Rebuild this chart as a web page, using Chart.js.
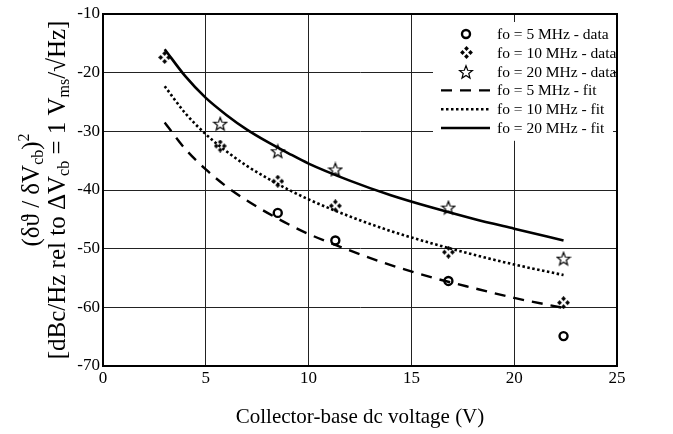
<!DOCTYPE html>
<html>
<head>
<meta charset="utf-8">
<script src="https://cdn.jsdelivr.net/npm/chart.js@4.4.1/dist/chart.umd.min.js"></script>
<style>
  html, body { margin: 0; padding: 0; background: #fff; }
  #wrap { width: 673px; height: 434px; position: relative; }
</style>
</head>
<body>
<div id="wrap"><canvas id="chart"></canvas></div>
<script>
// measured data (collector-base voltage in V, level in dB)
const v5 = [8.5, 11.3, 16.8, 22.4];
const d5 = [-43.9, -48.6, -55.5, -64.9];
const v10 = [3.0, 5.7, 8.5, 11.3, 16.8, 22.4];
const d10 = [-17.4, -32.5, -38.5, -42.7, -50.6, -59.2];
const v20 = [5.7, 8.5, 11.3, 16.8, 22.4];
const d20 = [-28.7, -33.4, -36.5, -43.0, -51.7];

// fitted curves
const fitV = [3, 4, 5, 6, 7, 8, 9, 10, 12, 14, 16, 18, 20, 22.4];
const fit5 = [-28.5, -33.0, -36.5, -39.4, -41.8, -43.9, -45.8, -47.5, -50.3, -52.8, -54.9, -56.7, -58.4, -60.1];
const fit10 = [-22.3, -26.9, -30.5, -33.4, -35.9, -38.0, -39.9, -41.6, -44.5, -47.0, -49.1, -51.0, -52.7, -54.5];
const fit20 = [-16.0, -20.6, -24.3, -27.2, -29.7, -31.8, -33.7, -35.5, -38.4, -40.9, -43.0, -44.9, -46.6, -48.6];

const legendLabels = [
  'fo = 5 MHz - data', 'fo = 10 MHz - data', 'fo = 20 MHz - data',
  'fo = 5 MHz - fit', 'fo = 10 MHz - fit', 'fo = 20 MHz - fit'
];

const SERIF = "'Liberation Serif', 'DejaVu Serif', serif";

const pts = (xs, ys) => xs.map((x, i) => ({ x: x, y: ys[i] }));

// four small diamonds in a plus arrangement
function makeCross() {
  const c = document.createElement('canvas');
  c.width = 13; c.height = 13;
  const g = c.getContext('2d');
  g.fillStyle = '#000';
  const dia = (x, y) => {
    g.beginPath();
    g.moveTo(x, y - 2.4); g.lineTo(x + 2.4, y); g.lineTo(x, y + 2.4); g.lineTo(x - 2.4, y);
    g.closePath(); g.fill();
  };
  dia(6.5, 2.5); dia(2.5, 6.5); dia(10.5, 6.5); dia(6.5, 10.5);
  return c;
}

// outlined five point star
function makeStar() {
  const c = document.createElement('canvas');
  c.width = 16; c.height = 16;
  const g = c.getContext('2d');
  g.strokeStyle = '#000';
  g.lineWidth = 1.2;
  g.beginPath();
  for (let i = 0; i < 10; i++) {
    const r = i % 2 === 0 ? 6.8 : 2.9;
    const a = -Math.PI / 2 + i * Math.PI / 5;
    const px = 8 + r * Math.cos(a), py = 8.6 + r * Math.sin(a);
    if (i === 0) g.moveTo(px, py); else g.lineTo(px, py);
  }
  g.closePath();
  g.stroke();
  return c;
}

const crossImg = makeCross();
const starImg = makeStar();

// frame around the plot area
const framePlugin = {
  id: 'frame',
  beforeDatasetsDraw(chart) {
    const a = chart.chartArea, ctx = chart.ctx;
    ctx.save();
    ctx.strokeStyle = '#000';
    ctx.lineWidth = 2;
    ctx.strokeRect(a.left, a.top, a.right - a.left, a.bottom - a.top);
    ctx.restore();
  }
};

// legend box in the upper right corner of the plot
const legendPlugin = {
  id: 'boxLegend',
  afterDraw(chart) {
    const a = chart.chartArea, ctx = chart.ctx;
    const x0 = a.right - 184, y0 = a.top + 8;
    const rowH = 18.8;
    ctx.save();
    ctx.fillStyle = '#fff';
    ctx.fillRect(x0, y0, 180, rowH * 6 + 6);
    const symX = x0 + 33, lineX1 = x0 + 8, lineX2 = x0 + 57, textX = x0 + 64;
    ctx.font = '15.5px ' + SERIF;
    ctx.textBaseline = 'middle';
    ctx.fillStyle = '#000';
    legendLabels.forEach((lab, i) => {
      const y = y0 + 12 + i * rowH;
      const ds = chart.data.datasets[i];
      if (i < 3) {
        if (ds.pointStyle === 'circle') {
          ctx.beginPath();
          ctx.lineWidth = ds.pointBorderWidth;
          ctx.strokeStyle = '#000';
          ctx.arc(symX, y, ds.pointRadius, 0, Math.PI * 2);
          ctx.stroke();
        } else {
          const img = ds.pointStyle;
          ctx.drawImage(img, Math.round(symX - img.width / 2), Math.round(y - img.height / 2));
        }
      } else {
        ctx.beginPath();
        ctx.strokeStyle = '#000';
        ctx.lineWidth = ds.borderWidth;
        ctx.setLineDash(ds.borderDash || []);
        ctx.moveTo(lineX1, y);
        ctx.lineTo(lineX2, y);
        ctx.stroke();
        ctx.setLineDash([]);
      }
      ctx.fillText(lab, textX, y + 1);
    });
    ctx.restore();
  }
};

// two-line rotated y-axis title with sub/superscripts
const yTitlePlugin = {
  id: 'yTitle',
  afterDraw(chart) {
    const a = chart.chartArea, ctx = chart.ctx;
    const cy = (a.top + a.bottom) / 2;
    const big = '25px ' + SERIF, small = '16px ' + SERIF;
    const lines = [
      { x: 31, parts: [['(δϑ / δV', 0], ['cb', 1], [')', 0], ['2', -1]] },
      { x: 57, parts: [['[dBc/Hz rel to ΔV', 0], ['cb', 1], [' = 1 V', 0], ['ms', 1], ['/√Hz]', 0]] }
    ];
    ctx.save();
    ctx.fillStyle = '#000';
    ctx.textBaseline = 'alphabetic';
    lines.forEach(line => {
      let total = 0;
      line.parts.forEach(p => {
        ctx.font = p[1] === 0 ? big : small;
        total += ctx.measureText(p[0]).width;
      });
      ctx.save();
      ctx.translate(line.x, cy);
      ctx.rotate(-Math.PI / 2);
      let x = -total / 2;
      line.parts.forEach(p => {
        ctx.font = p[1] === 0 ? big : small;
        const dy = p[1] === 1 ? 12 : (p[1] === -1 ? -2 : 8);
        ctx.fillText(p[0], x, dy);
        x += ctx.measureText(p[0]).width;
      });
      ctx.restore();
    });
    ctx.restore();
  }
};

const fitStyle = { showLine: true, pointRadius: 0, borderColor: '#000', fill: false, tension: 0.4, cubicInterpolationMode: 'monotone' };

new Chart(document.getElementById('chart'), {
  type: 'scatter',
  data: {
    datasets: [
      { label: legendLabels[0], data: pts(v5, d5), pointStyle: 'circle', pointRadius: 4, pointBorderWidth: 2.4, borderColor: '#000', backgroundColor: 'rgba(0,0,0,0)' },
      { label: legendLabels[1], data: pts(v10, d10), pointStyle: crossImg, pointRadius: 6, borderColor: '#000' },
      { label: legendLabels[2], data: pts(v20, d20), pointStyle: starImg, pointRadius: 7, borderColor: '#000' },
      Object.assign({ label: legendLabels[3], data: pts(fitV, fit5), borderWidth: 2.4, borderDash: [11, 8] }, fitStyle),
      Object.assign({ label: legendLabels[4], data: pts(fitV, fit10), borderWidth: 2.6, borderDash: [2.5, 2.5] }, fitStyle),
      Object.assign({ label: legendLabels[5], data: pts(fitV, fit20), borderWidth: 2.6 }, fitStyle)
    ]
  },
  options: {
    responsive: true,
    maintainAspectRatio: false,
    animation: false,
    layout: { padding: { top: 14, right: 56, left: 0, bottom: 0 } },
    scales: {
      x: {
        type: 'linear',
        min: 0, max: 25,
        ticks: { stepSize: 5, color: '#000', font: { family: SERIF, size: 17 }, padding: 2, maxRotation: 0 },
        grid: { color: '#222', lineWidth: 1, drawTicks: false },
        border: { color: '#000', width: 2 },
        title: { display: true, text: 'Collector-base dc voltage (V)', color: '#000', font: { family: SERIF, size: 21 }, padding: { top: 8 } },
        afterFit(scale) { scale.height = 68; }
      },
      y: {
        min: -70, max: -10,
        ticks: { stepSize: 10, color: '#000', font: { family: SERIF, size: 17 }, padding: 3 },
        grid: { color: '#222', lineWidth: 1, drawTicks: false },
        border: { color: '#000', width: 2 },
        afterFit(scale) { scale.width = 103; }
      }
    },
    plugins: {
      legend: { display: false },
      tooltip: { enabled: false }
    }
  },
  plugins: [framePlugin, legendPlugin, yTitlePlugin]
});
</script>
</body>
</html>
